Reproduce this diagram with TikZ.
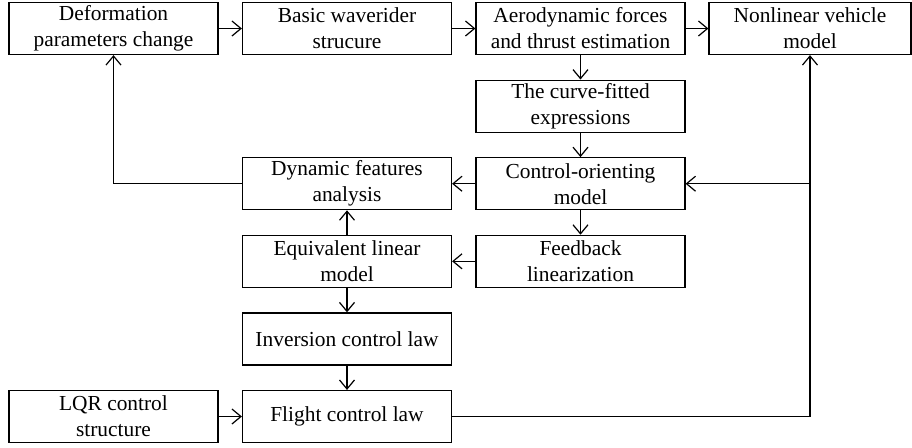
\documentclass[tikz,border=0pt]{standalone}
\usepackage{fontspec}
\setmainfont{Liberation Serif}
\usetikzlibrary{arrows.meta}
\tikzset{
	block/.style  = {draw, fill=white, rectangle, align=center, minimum height=26pt, minimum width=104.5pt, inner sep=1pt, font=\fontsize{10.7}{13}\selectfont, node distance=116.75pt},
	hidden/.style = {coordinate},
}
\begin{document}
\begin{tikzpicture}[auto, line width=0.6pt, >={Straight Barb[length=4.5pt,width=7.5pt,line width=0.6pt]}]
	\useasboundingbox (-56.75pt,14.25pt) rectangle (399.25pt,-209.25pt);

	% Top row of blocks
	\draw
	node[block] (deformation) {Deformation\\parameters change}
	node[block, right of = deformation] (waverider) {Basic waverider\\strucure}
	node[block, right of = waverider  ] (aero) {Aerodynamic forces\\and thrust estimation}
	node[block, right of = aero       , node distance = 114.75pt, minimum width=101pt] (nonlinear) {Nonlinear vehicle\\model};

	% Right column
	\draw
	node[block, below of = aero    , node distance = 38.8pt] (curvefit) {The curve-fitted\\expressions}
	node[block, below of = curvefit, node distance = 38.8pt] (control) {Control-orienting\\model}
	node[block, below of = control , node distance = 38.8pt] (feedback) {Feedback\\linearization};

	% Middle column
	\draw
	node[block, left of = control   ] (dynamic) {Dynamic features\\analysis}
	node[block, left of = feedback  ] (equivalent) {Equivalent linear\\model}
	node[block, below of = equivalent, node distance = 38.8pt] (inversion) {Inversion control law}
	node[block, below of = inversion , node distance = 38.8pt] (flight) {Flight control law}
	node[block, left of = flight    ] (lqr) {LQR control\\structure};

	% Fork points on the way back to the vehicle model
	\draw
	node[hidden] at (flight -| nonlinear) (flightfork) {}
	node[hidden] at (control -| nonlinear) (controlfork) {};

	% Connect everything together
	\draw[->] (deformation) -- (waverider);
	\draw[->] (waverider) -- (aero);
	\draw[->] (aero) -- (nonlinear);
	\draw[->] (aero) -- (curvefit);
	\draw[->] (curvefit) -- (control);
	\draw[->] (control) -- (dynamic);
	\draw[->] (control) -- (feedback);
	\draw[->] (feedback) -- (equivalent);
	\draw[->] (equivalent) -- (dynamic);
	\draw[->] (equivalent) -- (inversion);
	\draw[->] (inversion) -- (flight);
	\draw[->] (lqr) -- (flight);

	% Draw feedback paths
	\draw[->] (flight) -- (flightfork) -- (nonlinear);
	\draw[->] (controlfork) -- (control);
	\draw[->] (dynamic) -| (deformation);
\end{tikzpicture}
\end{document}
